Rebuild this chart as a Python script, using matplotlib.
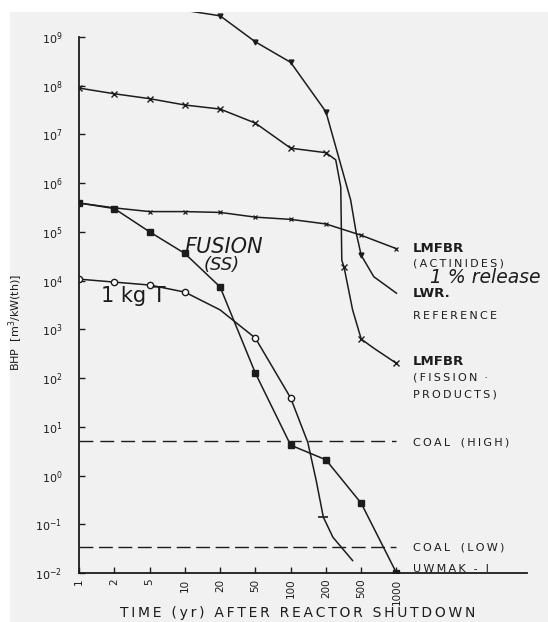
import numpy as np
import matplotlib
matplotlib.use("Agg")
import matplotlib.pyplot as plt
from matplotlib.patches import Rectangle

# time axis: decade steps 1-2-5 drawn at equal spacing
year_ticks = [1, 2, 5, 10, 20, 50, 100, 200, 500, 1000]
year_labels = ["1", "2", "5", "10", "20", "50", "100", "200", "500", "1000"]

# LWR reference (goes off the top of the frame at early times)
lwr_t = [10, 20, 50, 100, 200, 380, 440, 500, 640, 1000]
lwr_bhp = [3.5e9, 2.7e9, 7.9e8, 3.0e8, 2.9e7, 4.5e5, 9.3e4, 3.3e4, 1.2e4, 5.5e3]

# LMFBR fission products
fp_t = [1, 2, 5, 10, 20, 50, 100, 200, 258, 294, 302, 320, 400, 500, 640, 1000]
fp_bhp = [8.9e7, 6.8e7, 5.4e7, 4.0e7, 3.3e7, 1.7e7, 5.2e6, 4.2e6, 3.0e6, 8.3e5,
          2.6e4, 1.9e4, 2.5e3, 6.3e2, 4.1e2, 2.0e2]

# LMFBR actinides, 1 % release
act_t = [1, 2, 5, 10, 20, 50, 100, 200, 500, 1000]
act_bhp = [3.9e5, 3.1e5, 2.6e5, 2.6e5, 2.5e5, 2.0e5, 1.8e5, 1.45e5, 8.5e4, 4.5e4]

# fusion, stainless steel (UWMAK-I)
fus_t = [1, 2, 5, 10, 20, 50, 100, 200, 500, 1000]
fus_bhp = [3.9e5, 3.0e5, 1.0e5, 3.6e4, 7.4e3, 1.26e2, 4.2, 2.1, 0.27, 0.01]

# 1 kg tritium
tri_t = [1, 2, 5, 10, 20, 50, 100, 140, 165, 190, 240, 400]
tri_bhp = [1.07e4, 9.3e3, 8.1e3, 5.8e3, 2.5e3, 6.6e2, 39, 4.8, 0.8, 0.14, 0.054, 0.018]

# coal ash reference levels
coal_high = 5.0
coal_low = 0.034

lt_ticks = np.log10(year_ticks)
step = np.log10(2)


def fwd(t):
    lt = np.log10(np.clip(np.asarray(t, float), 1e-9, None))
    p = np.interp(lt, lt_ticks, np.arange(10))
    p = np.where(lt < 0, lt / step, p)
    p = np.where(lt > 3, 9 + (lt - 3) / step, p)
    return p


def inv(p):
    p = np.asarray(p, float)
    lt = np.interp(p, np.arange(10), lt_ticks)
    lt = np.where(p < 0, p * step, lt)
    lt = np.where(p > 9, 3 + (p - 9) * step, lt)
    return 10 ** lt


def spaced(s):
    # typewriter-style lettering with a thin gap between letters
    return "\u2009".join(s)


ink = "#1c1c1c"
fig = plt.figure(figsize=(5.48, 6.22), dpi=100, facecolor="white")
fig.patches.append(Rectangle((10 / 548, 0), 1, 1 - 12 / 622, transform=fig.transFigure,
                             facecolor="#f1f1f1", edgecolor="none", zorder=-10))
ax = fig.add_axes([79 / 548, 1 - 573 / 622, (527 - 79) / 548, (573 - 12) / 622])
ax.patch.set_alpha(0)

ax.set_xscale("function", functions=(fwd, inv))
ax.set_yscale("log")
ax.set_xlim(1, float(inv(12.7)))
ax.set_ylim(1e-2, 10 ** 9.51)

lw = 1.1
ax.plot(lwr_t, lwr_bhp, color=ink, lw=lw, marker="v", ms=3.5,
        markevery=[1, 2, 3, 4, 7])
ax.plot(fp_t, fp_bhp, color=ink, lw=lw, marker="x", ms=4, mew=1,
        markevery=[0, 1, 2, 3, 4, 5, 6, 7, 11, 13, 15])
ax.plot(act_t, act_bhp, color=ink, lw=lw, marker="x", ms=3.5, mew=0.9)
ax.plot(fus_t, fus_bhp, color=ink, lw=lw, marker="s", ms=4.5, mfc=ink)
ax.plot(tri_t, tri_bhp, color=ink, lw=lw, marker="o", ms=4.5, mfc="white",
        markevery=[0, 1, 2, 3, 5, 6])
ax.plot(tri_t[9], tri_bhp[9], color=ink, marker="_", ms=7, mew=1.2)

ax.plot([1, 1000], [coal_high, coal_high], color=ink, lw=1, dashes=(10, 5))
ax.plot([1, 1000], [coal_low, coal_low], color=ink, lw=1, dashes=(10, 4))

# axes frame
for s in ("top", "right"):
    ax.spines[s].set_visible(False)
ax.spines["left"].set_bounds(1e-2, 1e9)
for s in ("left", "bottom"):
    ax.spines[s].set_color(ink)
    ax.spines[s].set_linewidth(1.3)

ax.set_xticks(year_ticks)
ax.set_xticklabels(year_labels, rotation=90, fontsize=7.5, color=ink)
ax.xaxis.set_minor_locator(matplotlib.ticker.NullLocator())
ax.set_yticks([10.0 ** k for k in range(-2, 10)])
ax.set_yticklabels([r"$10^{%d}$" % k for k in range(-2, 10)], fontsize=8, color=ink)
ax.yaxis.set_minor_locator(matplotlib.ticker.NullLocator())
ax.tick_params(direction="in", length=4, width=1, color=ink)
ax.tick_params(axis="y", pad=12)
ax.tick_params(axis="x", pad=4)

ax.set_xlabel(spaced("TIME (yr) AFTER REACTOR SHUTDOWN"), fontsize=10, color=ink)
ax.xaxis.set_label_coords(0.489, -0.058)
ax.set_ylabel(r"BHP  [m$^3$/kW(th)]", fontsize=8, color=ink)
ax.yaxis.set_label_coords(-0.12, 0.447)

# curve labels on the right
lx = 1380
small = dict(fontsize=8, color=ink, va="center")
bold = dict(fontsize=9.5, fontweight="bold", color=ink, va="center")
ax.text(lx, 10 ** 4.65, "LMFBR", **bold)
ax.text(lx, 10 ** 4.34, spaced("(ACTINIDES)"), **small)
ax.text(1950, 10 ** 4.06, "1 % release", fontsize=13.5, style="italic", color=ink, va="center")
ax.text(lx, 10 ** 3.74, "LWR.", **bold)
ax.text(lx, 10 ** 3.27, spaced("REFERENCE"), **small)
ax.text(lx, 10 ** 2.33, "LMFBR", **bold)
ax.text(lx, 10 ** 2.02, spaced("(FISSION") + "  \u00b7", **small)
ax.text(lx, 10 ** 1.67, spaced("PRODUCTS)"), **small)
ax.text(lx, 10 ** 0.68, spaced("COAL") + "   " + spaced("(HIGH)"), **small)
ax.text(lx, 10 ** -1.47, spaced("COAL") + "   " + spaced("(LOW)"), **small)
ax.text(lx, 10 ** -1.92, spaced("UWMAK - I"), **small)

ax.text(10, 10 ** 4.69, "FUSION", fontsize=15, style="italic", color=ink, va="center")
ax.text(14.5, 10 ** 4.32, "(SS)", fontsize=13, style="italic", color=ink, va="center")
ax.text(1.55, 10 ** 3.68, "1 kg T", fontsize=15, color=ink, va="center")

fig.savefig("out.png", dpi=100)
